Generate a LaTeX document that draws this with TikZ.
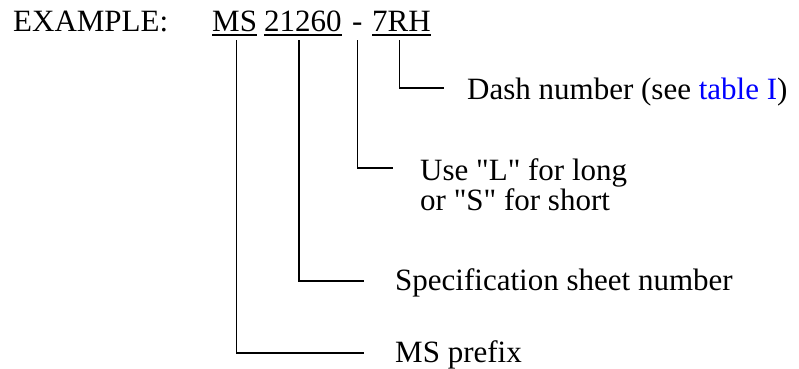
\documentclass[tikz,border=0pt]{standalone}
\usepackage{fontspec}
\setmainfont{Liberation Serif}
\definecolor{linkblue}{RGB}{0,0,255}
\begin{document}
\begin{tikzpicture}[x=1pt,y=-1pt,
  txt/.style={inner sep=0pt, anchor=base west, font=\fontsize{31}{35}\selectfont},
  conn/.style={line width=1.3pt},
  uline/.style={line width=1.3pt}]
\useasboundingbox (0,0) rectangle (799,368);
% part number
\node[txt] (ex) at (13,31) {EXAMPLE:};
\node[txt] (ms) at (212,31) {MS};
\node[txt] (num) at (264,31) {21260};
\node[txt] (dash) at (352,31) {-};
\node[txt] (suf) at (372,31) {7RH};
\foreach \n in {ms,num,suf}
  \draw[uline] ([yshift=-4pt]\n.base west) -- ([yshift=-4pt]\n.base east);
\coordinate (msTop) at ([xshift=2pt,yshift=-9pt]ms.base);
\coordinate (numTop) at ([xshift=-4pt,yshift=-9pt]num.base);
\coordinate (dashTop) at ([yshift=-9pt]dash.base);
\coordinate (sufTop) at ([xshift=-2pt,yshift=-9pt]suf.base);
% labels
\node[txt] (dashlbl) at (467,99) {Dash number (see \textcolor{linkblue}{table I})};
\node[txt] (uselbl) at (420,180) {Use \textquotedbl L\textquotedbl{} for long};
\node[txt] (uselblb) at (420,210) {or \textquotedbl S\textquotedbl{} for short};
\node[txt] (speclbl) at (395,290) {Specification sheet number};
\node[txt] (prelbl) at (395,362) {MS prefix};
% connectors
\draw[conn] (sufTop) |- ([xshift=-23pt,yshift=11pt]dashlbl.base west);
\draw[conn] (dashTop) |- ([xshift=-27pt,yshift=12pt]uselbl.base west);
\draw[conn] (numTop) |- ([xshift=-31pt,yshift=9pt]speclbl.base west);
\draw[conn] (msTop) |- ([xshift=-31pt,yshift=9pt]prelbl.base west);
\end{tikzpicture}
\end{document}
